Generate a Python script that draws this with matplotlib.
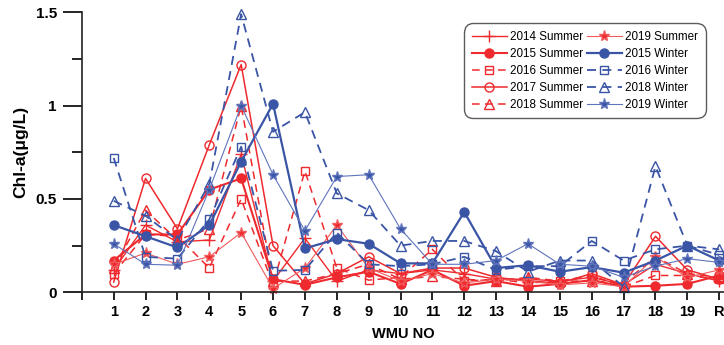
import matplotlib
matplotlib.use("Agg")
import matplotlib.pyplot as plt
from matplotlib.ticker import FixedLocator

# Sampling stations (WMU numbers) and the reference station R
stations = ["1", "2", "3", "4", "5", "6", "7", "8", "9", "10",
            "11", "12", "13", "14", "15", "16", "17", "18", "19", "R"]

# Chl-a concentration (µg/L) per station and campaign
summer_2014 = [0.12, 0.36, 0.27, 0.28, 0.74, 0.06, 0.29, 0.06, 0.12, 0.10,
               0.12, 0.10, 0.07, 0.07, 0.06, 0.08, 0.04, 0.15, 0.10, 0.06]
summer_2015 = [0.17, 0.31, 0.31, 0.55, 0.61, 0.07, 0.04, 0.08, 0.11, 0.045,
               0.12, 0.035, 0.06, 0.03, 0.045, 0.065, 0.03, 0.035, 0.045, 0.09]
summer_2016 = [0.10, 0.31, 0.30, 0.13, 0.50, 0.04, 0.65, 0.13, 0.065, 0.08,
               0.23, 0.06, 0.07, 0.05, 0.06, 0.09, 0.03, 0.09, 0.09, 0.07]
summer_2017 = [0.055, 0.61, 0.34, 0.79, 1.22, 0.25, 0.045, 0.10, 0.19, 0.10,
               0.13, 0.13, 0.08, 0.06, 0.05, 0.10, 0.04, 0.30, 0.12, 0.07]
summer_2018 = [0.13, 0.44, 0.28, 0.34, 1.00, 0.06, 0.06, 0.10, 0.15, 0.07,
               0.085, 0.07, 0.06, 0.08, 0.06, 0.06, 0.05, 0.19, 0.10, 0.08]
summer_2019 = [0.15, 0.21, 0.15, 0.19, 0.32, 0.02, 0.13, 0.36, 0.13, 0.06,
               0.10, 0.05, 0.07, 0.06, 0.04, 0.05, 0.03, 0.19, 0.08, 0.12]
winter_2015 = [0.36, 0.30, 0.24, 0.36, 0.70, 1.01, 0.235, 0.285, 0.26, 0.155,
               0.155, 0.43, 0.13, 0.145, 0.11, 0.135, 0.105, 0.17, 0.25, 0.17]
winter_2016 = [0.72, 0.19, 0.18, 0.39, 0.78, 0.115, 0.12, 0.32, 0.15, 0.14,
               0.15, 0.19, 0.12, 0.14, 0.14, 0.275, 0.17, 0.23, 0.25, 0.20]
winter_2018 = [0.49, 0.41, 0.28, 0.58, 1.49, 0.86, 0.965, 0.53, 0.44, 0.25,
               0.275, 0.275, 0.22, 0.11, 0.17, 0.17, 0.03, 0.675, 0.25, 0.23]
winter_2019 = [0.26, 0.15, 0.145, 0.55, 1.00, 0.63, 0.33, 0.62, 0.63, 0.34,
               0.15, 0.15, 0.17, 0.26, 0.15, 0.14, 0.08, 0.14, 0.18, 0.16]

RED = "#ee2a2e"
RED_LIGHT = "#f25a5c"
BLUE = "#3a55a6"
BLUE_LIGHT = "#5f74bc"
DASH = (0, (5, 3.5))

plt.rcParams["font.family"] = ["Liberation Sans", "DejaVu Sans"]

fig = plt.figure(figsize=(7.24, 3.45), dpi=100)
ax = fig.add_axes([0.113, 0.1528, 0.887, 0.8115])

x = list(range(1, len(stations) + 1))

series = [
    ("2014 Summer", summer_2014, dict(color=RED, ls="-", lw=1.0, marker="+", ms=8, mew=1.0, mfc=RED)),
    ("2015 Summer", summer_2015, dict(color=RED, ls="-", lw=1.5, marker="o", ms=6.5, mfc=RED)),
    ("2016 Summer", summer_2016, dict(color=RED, ls=DASH, lw=1.1, marker="s", ms=6, mfc="none", mew=1.0)),
    ("2017 Summer", summer_2017, dict(color=RED, ls="-", lw=1.1, marker="o", ms=6.5, mfc="none", mew=1.0)),
    ("2018 Summer", summer_2018, dict(color=RED, ls=DASH, lw=1.1, marker="^", ms=6.5, mfc="none", mew=1.0)),
    ("2019 Summer", summer_2019, dict(color=RED_LIGHT, ls="-", lw=0.8, marker="*", ms=8, mfc=RED)),
    ("2015 Winter", winter_2015, dict(color=BLUE, ls="-", lw=1.6, marker="o", ms=6.5, mfc=BLUE)),
    ("2016 Winter", winter_2016, dict(color=BLUE, ls=DASH, lw=1.3, marker="s", ms=6, mfc="none", mew=1.0)),
    ("2018 Winter", winter_2018, dict(color=BLUE, ls=DASH, lw=1.3, marker="^", ms=6.5, mfc="none", mew=1.0)),
    ("2019 Winter", winter_2019, dict(color=BLUE_LIGHT, ls="-", lw=0.8, marker="*", ms=8, mfc=BLUE)),
]

handles = []
for label, vals, style in series:
    mec = style.get("color")
    (ln,) = ax.plot(x, vals, label=label, mec=mec, clip_on=False, **style)
    handles.append(ln)

ax.set_xlim(0, 20.15)
ax.set_ylim(0, 1.5)

ax.xaxis.set_major_locator(FixedLocator(range(0, len(stations) + 1)))
ax.set_xticklabels([""] + stations, fontweight="bold", fontsize=10.5)
ax.set_yticks([0, 0.5, 1.0, 1.5])
ax.set_yticklabels(["0", "0.5", "1", "1.5"], fontweight="bold", fontsize=11)
ax.yaxis.set_minor_locator(FixedLocator([0.25, 0.75, 1.25]))

ax.tick_params(axis="y", which="major", direction="out", length=14, width=1.2, pad=4)
ax.tick_params(axis="y", which="minor", direction="out", length=7, width=1.2)
ax.tick_params(axis="x", which="major", direction="out", length=6, width=1.2, pad=3)

for side in ("top", "right"):
    ax.spines[side].set_visible(False)
for side in ("left", "bottom"):
    ax.spines[side].set_linewidth(1.2)
    ax.spines[side].set_color("#222222")

ax.set_ylabel("Chl-a(μg/L)", fontweight="bold", fontsize=12.5, labelpad=5)
ax.set_xlabel("WMU NO", fontweight="bold", fontsize=10.5, labelpad=6)

leg = ax.legend(handles=handles, ncol=2, loc="upper right",
                bbox_to_anchor=(0.968, 0.952),
                prop={"family": ["Liberation Sans Narrow", "Liberation Sans", "DejaVu Sans"], "size": 8.4},
                frameon=True, fancybox=True, edgecolor="#333333",
                handlelength=3.0, handletextpad=0.3, columnspacing=0.3,
                labelspacing=0.42, borderpad=0.45, borderaxespad=0.0)
leg.get_frame().set_linewidth(1.0)
leg.get_frame().set_boxstyle("round,pad=0.2,rounding_size=0.8")

fig.savefig("out.png", dpi=100)
